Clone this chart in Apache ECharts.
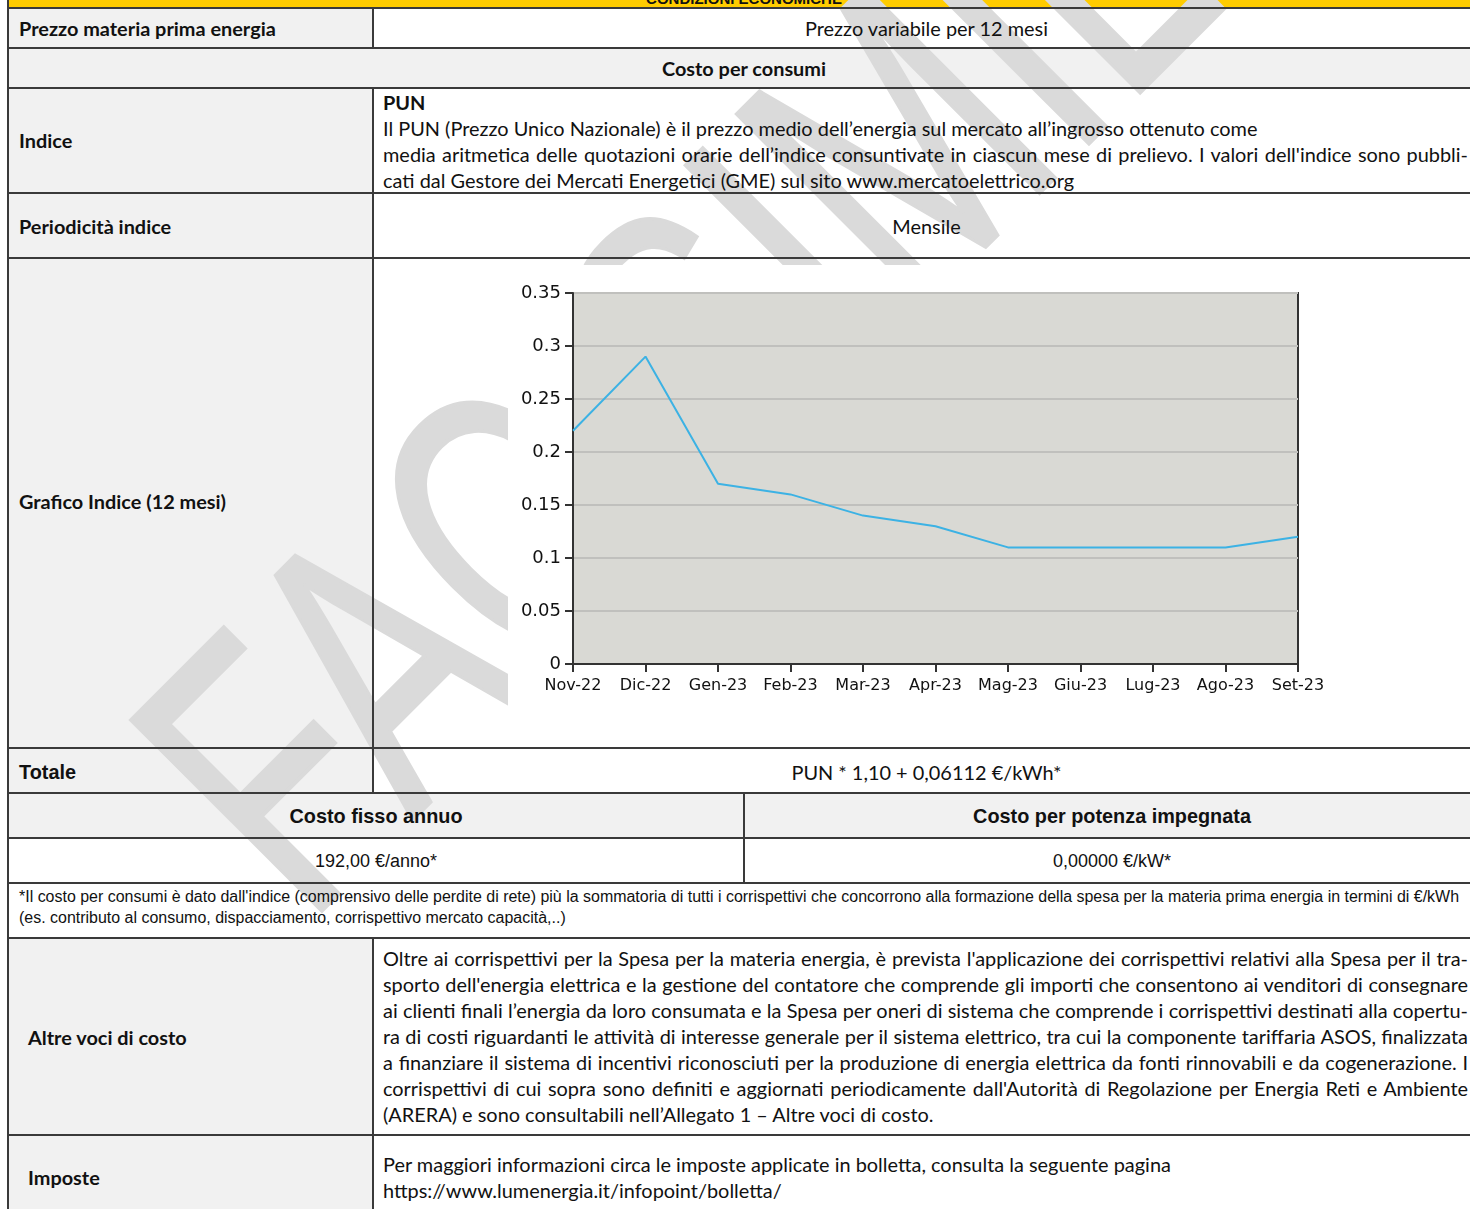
<!DOCTYPE html>
<html lang="it"><head><meta charset="utf-8">
<title>Condizioni economiche</title>
<script src="https://cdn.jsdelivr.net/npm/echarts@6.0.0/dist/echarts.min.js"></script>
<style>
html,body{margin:0;padding:0;background:#fff;}
#page{position:relative;width:1470px;height:1209px;overflow:hidden;background:#fff;}
.bg,.ln,.tx{position:absolute;}
#bgLayer,#wmLayer,#fgLayer{position:absolute;left:0;top:0;width:1470px;height:1209px;}
#bgLayer{z-index:1}
#wmLayer{z-index:2;overflow:hidden;pointer-events:none}
#fgLayer{z-index:3}
#chart{position:absolute;left:508px;top:265px;width:900px;height:478px;z-index:4;background:#fff}
.tx{white-space:nowrap;color:#111;}
.ln{background:#3a3a3a;}
#wm{position:absolute;white-space:nowrap;font-family:'Liberation Sans',Arial,sans-serif;font-size:392px;line-height:1;color:#dadada;-webkit-text-stroke:4px #dadada;transform-origin:0 0;left:71px;top:692px;transform:rotate(-45deg) scaleX(0.69);}
</style></head><body>
<div id="page"><div id="bgLayer"></div><div id="wmLayer"><div id="wm">FAC SIMILE</div></div><div id="fgLayer"></div><div id="chart"></div></div>
<script>
// ---------- chart data ----------
const months = ['Nov-22','Dic-22','Gen-23','Feb-23','Mar-23','Apr-23','Mag-23','Giu-23','Lug-23','Ago-23','Set-23'];
const punValues = [0.22,0.29,0.17,0.16,0.14,0.13,0.11,0.11,0.11,0.11,0.12];
const yMin = 0, yMax = 0.35, yStep = 0.05;

// ---------- table texts ----------
const headerTitle = 'CONDIZIONI ECONOMICHE';
const punLines = [
  'Il PUN (Prezzo Unico Nazionale) è il prezzo medio dell’energia sul mercato all’ingrosso ottenuto come',
  'media aritmetica delle quotazioni orarie dell’indice consuntivate in ciascun mese di prelievo. I valori dell\'indice sono pubbli-',
  'cati dal Gestore dei Mercati Energetici (GME) sul sito www.mercatoelettrico.org'
];
const footLines = [
  '*Il costo per consumi è dato dall\'indice (comprensivo delle perdite di rete) più la sommatoria di tutti i corrispettivi che concorrono alla formazione della spesa per la materia prima energia in termini di €/kWh',
  '(es. contributo al consumo, dispacciamento, corrispettivo mercato capacità,..)'
];
const altreLines = [
  'Oltre ai corrispettivi per la Spesa per la materia energia, è prevista l\'applicazione dei corrispettivi relativi alla Spesa per il tra-',
  'sporto dell\'energia elettrica e la gestione del contatore che comprende gli importi che consentono ai venditori di consegnare',
  'ai clienti finali l’energia da loro consumata e la Spesa per oneri di sistema che comprende i corrispettivi destinati alla copertu-',
  'ra di costi riguardanti le attività di interesse generale per il sistema elettrico, tra cui la componente tariffaria ASOS, finalizzata',
  'a finanziare il sistema di incentivi riconosciuti per la produzione di energia elettrica da fonti rinnovabili e da cogenerazione. I',
  'corrispettivi di cui sopra sono definiti e aggiornati periodicamente dall\'Autorità di Regolazione per Energia Reti e Ambiente',
  '(ARERA) e sono consultabili nell’Allegato 1 – Altre voci di costo.'
];
const imposteLines = [
  'Per maggiori informazioni circa le imposte applicate in bolletta, consulta la seguente pagina',
  'https://www.lumenergia.it/infopoint/bolletta/'
];

// ---------- fonts ----------
const CAL = "Lato, 'Open Sans', sans-serif";
const ARI = "'Liberation Sans', Arial, sans-serif";
const cv = document.createElement('canvas').getContext('2d');
function fit(text, weight, family, target){
  cv.font = weight + ' 100px ' + family;
  return 100 * target / cv.measureText(text).width;
}
const sCR = fit(punLines[0], '400', CAL, 875);
const sCB = fit('Prezzo materia prima energia', '700', CAL, 257);
const sAR = fit('192,00 €/anno*', '400', ARI, 122);
const sAB = fit('Costo per potenza impegnata', '700', ARI, 278);
const sAF = fit(footLines[0], '400', ARI, 1441);
const F = {
  CR:[CAL,400,sCR], CB:[CAL,700,sCB], AR:[ARI,400,sAR], AB:[ARI,700,sAB], AF:[ARI,400,sAF]
};

const bgL = document.getElementById('bgLayer');
const fgL = document.getElementById('fgLayer');
function rect(layer, cls, x1, y1, x2, y2, color){
  const d = document.createElement('div');
  d.className = cls;
  d.style.left = x1 + 'px'; d.style.top = y1 + 'px';
  d.style.width = (x2 - x1) + 'px'; d.style.height = (y2 - y1) + 'px';
  if (color) d.style.background = color;
  layer.appendChild(d);
  return d;
}
function text(str, font, x, yc, opt){
  opt = opt || {};
  const [fam, w, size] = F[font];
  const lh = 24;
  const d = document.createElement('div');
  d.className = 'tx';
  d.textContent = str;
  d.style.fontFamily = fam; d.style.fontWeight = w; d.style.fontSize = (opt.size || size) + 'px';
  d.style.lineHeight = lh + 'px';
  d.style.top = (yc - lh / 2) + 'px';
  if (opt.x2 !== undefined && opt.center){
    d.style.left = x + 'px'; d.style.width = (opt.x2 - x) + 'px'; d.style.textAlign = 'center';
  } else {
    d.style.left = x + 'px';
  }
  fgL.appendChild(d);
  if (opt.justifyTo){
    const nat = d.getBoundingClientRect().width;
    const spaces = (str.match(/ /g) || []).length;
    if (spaces) d.style.wordSpacing = ((opt.justifyTo - x - nat) / spaces) + 'px';
  }
  return d;
}

// ---------- table geometry ----------
const X0 = 8, XM = 373, XH = 744, X1 = 1480;
const GREY = '#f1f1f1';
rect(bgL, 'bg', X0, -2, X1, 8, '#ffcc00');
rect(bgL, 'bg', X0, 8, XM, 48, GREY);
rect(bgL, 'bg', X0, 48, X1, 88, GREY);
rect(bgL, 'bg', X0, 88, XM, 793, GREY);
rect(bgL, 'bg', X0, 793, X1, 838, GREY);
rect(bgL, 'bg', X0, 938, XM, 1215, GREY);

[8,48,88,193,258,748,793,838,883,938,1135].forEach(y => rect(fgL, 'ln', X0 - 1, y - 1, X1, y + 1));
rect(fgL, 'ln', X0 - 1, -2, X0 + 1, 1215);
[[8,48],[88,793],[938,1215]].forEach(r => rect(fgL, 'ln', XM - 1, r[0], XM + 1, r[1]));
rect(fgL, 'ln', XH - 1, 793, XH + 1, 883);

// header (cut at top)
text(headerTitle, 'AB', X0, -1.5, {center:true, x2:X1, size:15});

// rows
text('Prezzo materia prima energia', 'CB', 19, 28);
text('Prezzo variabile per 12 mesi', 'CR', XM, 28, {center:true, x2:X1});
text('Costo per consumi', 'CB', X0, 68, {center:true, x2:X1});
text('Indice', 'CB', 19, 140);
text('PUN', 'CB', 383, 102);
text(punLines[0], 'CR', 383, 128);
text(punLines[1], 'CR', 383, 154, {justifyTo:1468});
text(punLines[2], 'CR', 383, 180);
text('Periodicità indice', 'CB', 19, 226);
text('Mensile', 'CR', XM, 226, {center:true, x2:X1});
text('Grafico Indice (12 mesi)', 'CB', 19, 501);
text('Totale', 'AB', 19, 772);
text('PUN * 1,10 + 0,06112 €/kWh*', 'CR', XM, 772, {center:true, x2:X1});
text('Costo fisso annuo', 'AB', X0, 816, {center:true, x2:XH});
text('Costo per potenza impegnata', 'AB', XH, 816, {center:true, x2:X1});
text('192,00 €/anno*', 'AR', X0, 861, {center:true, x2:XH});
text('0,00000 €/kW*', 'AR', XH, 861, {center:true, x2:X1});
text(footLines[0], 'AF', 19, 897);
text(footLines[1], 'AF', 19, 918);
text('Altre voci di costo', 'CB', 28, 1037);
altreLines.forEach((l, i) => text(l, 'CR', 383, 958 + 26 * i, i < altreLines.length - 1 ? {justifyTo:1468} : {}));
text('Imposte', 'CB', 28, 1177);
imposteLines.forEach((l, i) => text(l, 'CR', 383, 1164 + 26 * i));

// ---------- chart ----------
const chart = echarts.init(document.getElementById('chart'), null, {renderer:'canvas'});
const FAM = "DejaVu Sans";
chart.setOption({
  animation:false,
  backgroundColor:'#ffffff',
  grid:{left:65, top:28, width:725, height:371, show:true, backgroundColor:'#d9d9d4', borderColor:'#333', borderWidth:2},
  xAxis:{
    type:'category', data:months, boundaryGap:false,
    axisLine:{show:true, lineStyle:{color:'#333', width:2}},
    axisTick:{show:true, length:8, alignWithLabel:true, lineStyle:{color:'#333', width:2}},
    axisLabel:{interval:0, margin:14, fontFamily:FAM, fontSize:16, color:'#111'},
    splitLine:{show:false}
  },
  yAxis:{
    type:'value', min:yMin, max:yMax, interval:yStep,
    axisLine:{show:true, lineStyle:{color:'#333', width:2}},
    axisTick:{show:true, length:8, lineStyle:{color:'#333', width:2}},
    axisLabel:{margin:12, fontFamily:FAM, fontSize:18, color:'#111', formatter:v => String(+v.toFixed(2))},
    splitLine:{show:true, lineStyle:{color:'#c0c0bd', width:2}}
  },
  series:[{
    type:'line', data:punValues, showSymbol:false, symbol:'none',
    lineStyle:{color:'#3cb2e4', width:2}
  }]
});
</script>
</body></html>
